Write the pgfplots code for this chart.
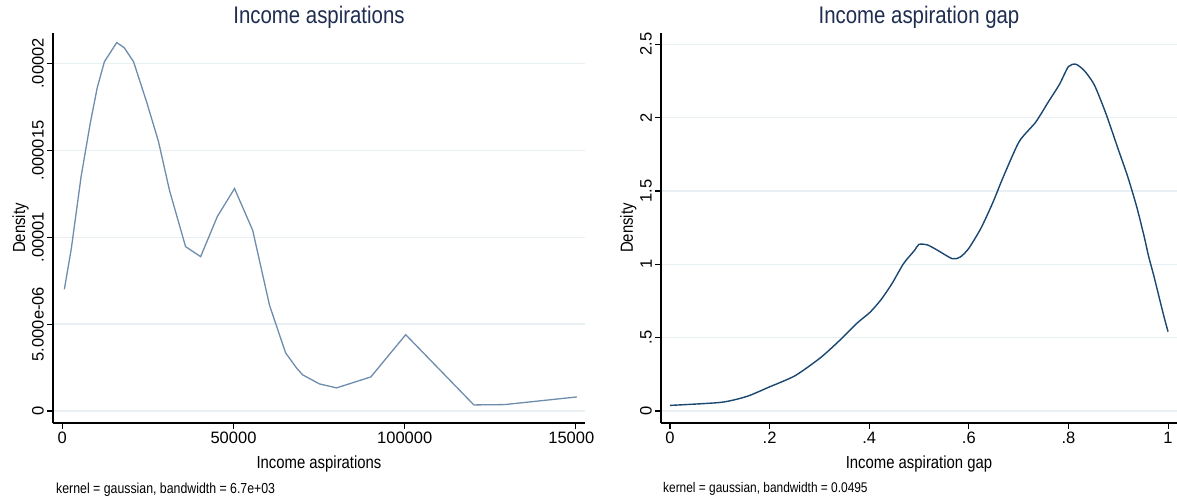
\documentclass[border=0pt]{standalone}
\usepackage{fontspec}
\setmainfont{Liberation Sans}
\newfontfamily\narrowfont[FakeStretch=0.85]{Liberation Sans}
\usepackage{pgfplots}
\pgfplotsset{compat=1.18}
\definecolor{gridc}{RGB}{232,240,243}
\definecolor{titlec}{RGB}{30,45,80}
\definecolor{lineL}{RGB}{110,140,172}
\definecolor{lineR}{RGB}{26,71,111}
\pgfplotsset{statastyle/.style={
  scale only axis, height=390pt,
  clip mode=individual,
  axis x line*=bottom, axis y line*=left,
  axis line style={black, line width=1.3pt},
  tick align=outside, major tick length=6pt,
  tick style={black, line width=1.1pt},
  ymajorgrids, grid style={gridc, line width=1.4pt},
  scaled y ticks=false, scaled x ticks=false,
  /pgf/number format/assume math mode=true,
  ticklabel style={font=\fontsize{16.5}{16.5}\selectfont},
  yticklabel style={rotate=90, anchor=south, inner sep=3pt},
  xticklabel style={anchor=north, inner sep=3pt},
  title style={font=\narrowfont\fontsize{24}{24}\selectfont, text=titlec, at={(0.5,1)}, anchor=base, yshift=3pt},
  xlabel style={font=\narrowfont\fontsize{17.5}{17.5}\selectfont, at={(axis description cs:0.5,0)}, anchor=base, yshift=-45pt},
  ylabel style={font=\narrowfont\fontsize{17.5}{17.5}\selectfont, anchor=base},
}}
\begin{document}
\begin{tikzpicture}
\useasboundingbox (0,0) rectangle (1177pt,499pt);
\begin{axis}[statastyle, at={(53pt,76pt)}, anchor=south west, width=532pt,
  xmin=-2716, xmax=152658, ymin=-6.9e-7, ymax=2.175e-5,
  xtick={0,50000,100000,150000}, xticklabels={0,50000,100000,15000\phantom{0}},
  ytick={0,5e-6,1e-5,1.5e-5,2e-5}, yticklabels={0,5.000e-06,.00001,.000015,.00002},
  title={Income aspirations}, xlabel={Income aspirations}, ylabel={Density},
  ylabel style={at={(axis description cs:-0.0526,0.5)}}]
\addplot[lineL, line width=1.3pt] coordinates {
(600,7.0e-6) (2600,9.3e-6) (5500,1.35e-5) (8200,1.66e-5) (10200,1.86e-5)
(12300,2.01e-5) (15900,2.12e-5) (18100,2.09e-5) (20800,2.01e-5) (24600,1.78e-5)
(28100,1.55e-5) (31300,1.27e-5) (36000,9.46e-6) (40400,8.88e-6) (45300,1.12e-5)
(50300,1.28e-5) (55600,1.04e-5) (60500,6.1e-6) (65200,3.35e-6) (68400,2.48e-6)
(70200,2.08e-6) (75100,1.56e-6) (80100,1.33e-6) (90100,1.96e-6) (100300,4.39e-6)
(120200,3.5e-7) (129200,3.7e-7) (150300,8.1e-7)};
\node[anchor=base west, font=\narrowfont\fontsize{14.5}{14.5}\selectfont, inner sep=0pt] at (axis description cs:0,0) [xshift=3pt, yshift=-70pt] {kernel = gaussian, bandwidth = 6.7e+03};
\end{axis}
\begin{axis}[statastyle, at={(661pt,76pt)}, anchor=south west, width=516pt,
  xmin=-0.018, xmax=1.018, ymin=-0.082, ymax=2.577,
  xtick={0,0.2,0.4,0.6,0.8,1}, xticklabels={0,.2,.4,.6,.8,1},
  ytick={0,0.5,1,1.5,2,2.5}, yticklabels={0,.5,1,1.5,2,2.5},
  title={Income aspiration gap}, xlabel={Income aspiration gap}, ylabel={Density},
  ylabel style={at={(axis description cs:-0.0543,0.5)}}]
\addplot[lineR, line width=1.4pt, smooth, tension=0.4] coordinates {
(0,0.038) (0.103,0.059) (0.155,0.10) (0.199,0.163) (0.251,0.24) (0.301,0.36)
(0.336,0.466) (0.376,0.60) (0.402,0.674) (0.424,0.76) (0.446,0.87) (0.469,1.005)
(0.491,1.095) (0.500,1.136) (0.517,1.132) (0.535,1.10) (0.567,1.038) (0.583,1.05)
(0.600,1.109) (0.625,1.25) (0.649,1.427) (0.668,1.586) (0.701,1.836) (0.734,1.968)
(0.760,2.109) (0.782,2.227) (0.800,2.348) (0.815,2.364) (0.832,2.32) (0.852,2.223)
(0.875,2.03) (0.900,1.784) (0.919,1.598) (0.937,1.393) (0.952,1.19) (0.961,1.054)
(0.972,0.914) (0.991,0.654) (1.0,0.541)};
\node[anchor=base west, font=\narrowfont\fontsize{14}{14}\selectfont, inner sep=0pt] at (axis description cs:0,0) [xshift=2pt, yshift=-69pt] {kernel = gaussian, bandwidth = 0.0495};
\end{axis}
\end{tikzpicture}
\end{document}
